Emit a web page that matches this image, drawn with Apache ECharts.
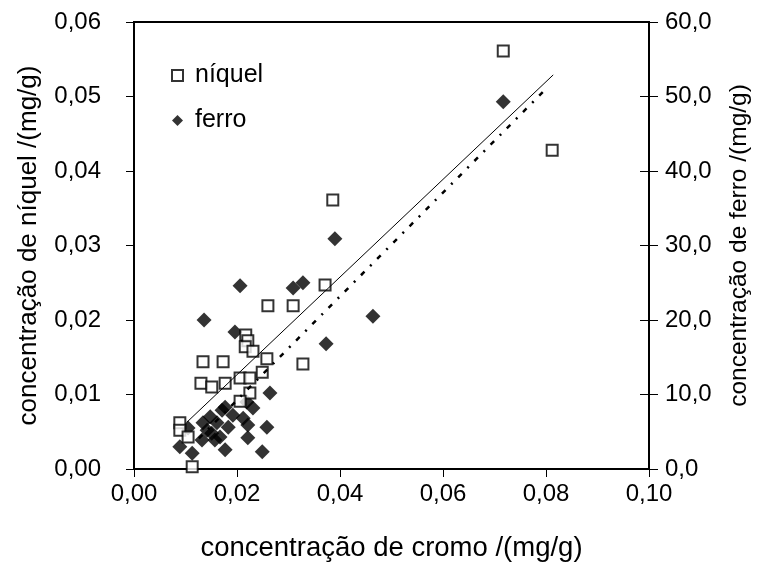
<!DOCTYPE html>
<html>
<head>
<meta charset="utf-8">
<script src="https://cdn.jsdelivr.net/npm/echarts@6/dist/echarts.min.js"></script>
<style>
  html, body { margin: 0; padding: 0; background: #fff; }
  #chart { width: 770px; height: 569px; }
</style>
</head>
<body>
<div id="chart"></div>
<script>
// Chromium concentration (x) with nickel and iron concentrations, mg/g
const niquelX = [0.0717, 0.0812, 0.0386, 0.0371, 0.0309, 0.0260, 0.0217, 0.0221, 0.0216, 0.0231,
                 0.0258, 0.0328, 0.0134, 0.0173, 0.0249, 0.0206, 0.0225, 0.0130, 0.0151, 0.0177,
                 0.0225, 0.0206, 0.0089, 0.0089, 0.0105, 0.0113];
const niquelY = [0.0561, 0.0428, 0.0361, 0.0247, 0.0219, 0.0219, 0.0180, 0.0172, 0.0164, 0.0158,
                 0.0148, 0.0141, 0.0144, 0.0144, 0.0130, 0.0122, 0.0122, 0.0115, 0.0110, 0.0115,
                 0.0102, 0.0091, 0.0062, 0.0052, 0.0043, 0.0003];

const ferroX = [0.0717, 0.0390, 0.0328, 0.0309, 0.0206, 0.0464, 0.0136, 0.0196, 0.0373, 0.0264,
                0.0219, 0.0231, 0.0177, 0.0148, 0.0192, 0.0212, 0.0171, 0.0161, 0.0221, 0.0183,
                0.0258, 0.0142, 0.0105, 0.0134, 0.0167, 0.0132, 0.0221, 0.0151, 0.0089, 0.0113,
                0.0177, 0.0249, 0.0157];
const ferroY = [49.3, 30.9, 25.0, 24.3, 24.6, 20.5, 20.0, 18.4, 16.8, 10.2,
                9.0, 8.2, 8.3, 7.0, 7.2, 6.8, 7.9, 6.2, 5.9, 5.6,
                5.6, 5.2, 5.5, 6.2, 4.3, 3.9, 4.2, 4.8, 3.0, 2.1,
                2.6, 2.3, 3.9];

// Linear trend lines (end points)
const niquelTrendX = [0.0103, 0.0814];
const niquelTrendY = [0.0063, 0.0529];
const ferroTrendX = [0.0126, 0.0804];
const ferroTrendY = [4.1, 51.3];

// Axis ticks
const xTicks = [0, 0.02, 0.04, 0.06, 0.08, 0.10];
const niquelTicks = [0, 0.01, 0.02, 0.03, 0.04, 0.05, 0.06];
const ferroTicks = [0, 10, 20, 30, 40, 50, 60];

const pairs = (xs, ys) => xs.map((x, i) => [x, ys[i]]);
const comma = (v, d) => v.toFixed(d).replace('.', ',');

const FONT = 'Liberation Sans, Arial, sans-serif';
const labelStyle = { color: '#000', fontSize: 24, fontFamily: FONT };

const chart = echarts.init(document.getElementById('chart'), null, { renderer: 'canvas' });

chart.setOption({
  animation: false,
  backgroundColor: '#fff',
  grid: { left: 134, right: 121, top: 22, bottom: 100, show: true, borderColor: '#000', borderWidth: 2, backgroundColor: 'transparent' },
  legend: {
    orient: 'vertical',
    left: 166, top: 58,
    itemWidth: 11, itemHeight: 11, itemGap: 20,
    textStyle: { color: '#000', fontSize: 25, fontFamily: FONT, padding: [0, 0, 0, 7] },
    data: [
      { name: 'níquel', icon: 'rect', itemStyle: { color: '#fff', borderColor: '#000', borderWidth: 2 } },
      { name: 'ferro', icon: 'diamond', itemStyle: { color: '#000' } }
    ]
  },
  xAxis: {
    type: 'value',
    min: xTicks[0], max: xTicks[xTicks.length - 1], interval: 0.02,
    name: 'concentração de cromo /(mg/g)',
    nameLocation: 'middle', nameGap: 65,
    nameTextStyle: { color: '#000', fontSize: 27.5, fontFamily: FONT },
    axisLine: { lineStyle: { color: '#000', width: 2 } },
    axisTick: { show: true, length: 8, lineStyle: { color: '#000', width: 1 } },
    axisLabel: { ...labelStyle, margin: 13, formatter: v => comma(v, 2) },
    splitLine: { show: false }
  },
  yAxis: [
    {
      type: 'value', position: 'left',
      min: niquelTicks[0], max: niquelTicks[niquelTicks.length - 1], interval: 0.01,
      name: 'concentração de níquel /(mg/g)',
      nameLocation: 'middle', nameGap: 92, nameRotate: 90,
      nameTextStyle: { color: '#000', fontSize: 26, fontFamily: FONT },
      axisLine: { show: true, lineStyle: { color: '#000', width: 2 } },
      axisTick: { show: true, length: 8, lineStyle: { color: '#000', width: 1 } },
      axisLabel: { ...labelStyle, margin: 33, formatter: v => comma(v, 2) },
      splitLine: { show: false }
    },
    {
      type: 'value', position: 'right',
      min: ferroTicks[0], max: ferroTicks[ferroTicks.length - 1], interval: 10,
      name: 'concentração de ferro /(mg/g)',
      nameLocation: 'middle', nameGap: 78, nameRotate: 90,
      nameTextStyle: { color: '#000', fontSize: 24.5, fontFamily: FONT },
      axisLine: { show: true, lineStyle: { color: '#000', width: 2 } },
      axisTick: { show: true, length: 9, lineStyle: { color: '#000', width: 1 } },
      axisLabel: { ...labelStyle, margin: 16, formatter: v => comma(v, 1) },
      splitLine: { show: false }
    },
    {
      // inner half of the right-hand cross ticks
      type: 'value', position: 'right',
      min: ferroTicks[0], max: ferroTicks[ferroTicks.length - 1], interval: 10,
      axisLine: { show: false },
      axisTick: { show: true, inside: true, length: 9, lineStyle: { color: '#000', width: 1 } },
      axisLabel: { show: false },
      splitLine: { show: false }
    }
  ],
  series: [
    {
      name: 'ferro', type: 'scatter', yAxisIndex: 1,
      symbol: 'diamond', symbolSize: 15,
      itemStyle: { color: '#000' },
      data: pairs(ferroX, ferroY), z: 2
    },
    {
      name: 'níquel', type: 'scatter', yAxisIndex: 0,
      symbol: 'rect', symbolSize: 11,
      itemStyle: { color: '#fff', borderColor: '#000', borderWidth: 2 },
      data: pairs(niquelX, niquelY), z: 3
    },
    {
      name: 'tendência níquel', type: 'line', yAxisIndex: 0,
      showSymbol: false, symbol: 'none',
      lineStyle: { color: '#000', width: 1 },
      data: pairs(niquelTrendX, niquelTrendY), z: 4
    },
    {
      name: 'tendência ferro', type: 'line', yAxisIndex: 1,
      showSymbol: false, symbol: 'none',
      lineStyle: { color: '#000', width: 2.5, type: [5, 8, 2, 8] },
      data: pairs(ferroTrendX, ferroTrendY), z: 4
    }
  ]
});
</script>
</body>
</html>
